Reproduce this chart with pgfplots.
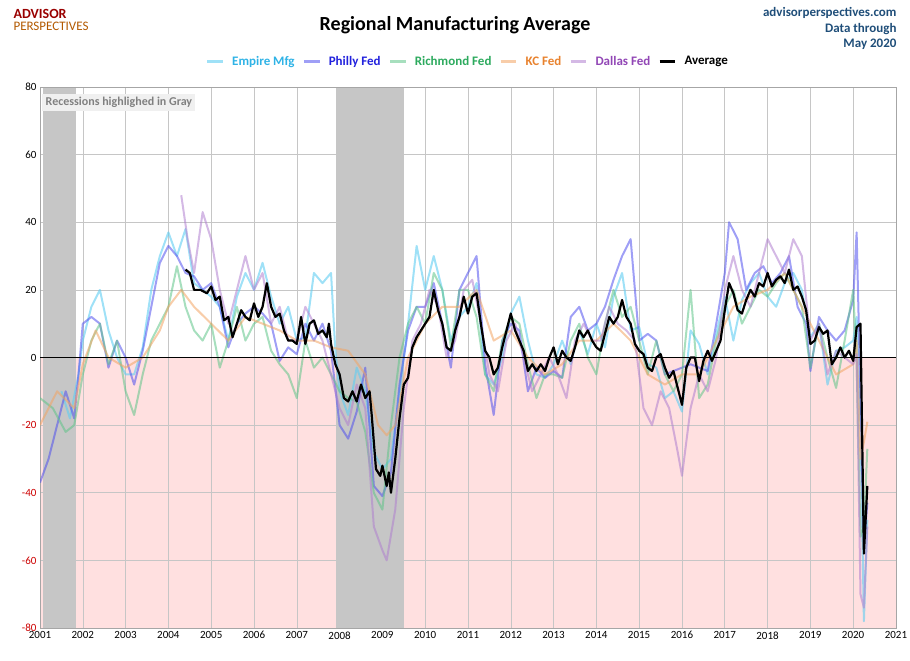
\documentclass[border=0pt]{standalone}
\usepackage{pgfplots}
\pgfplotsset{compat=1.18}
\usepackage{fontspec}
\setmainfont{Carlito}
\definecolor{cEmp}{HTML}{5FCDF2}
\definecolor{cPhi}{HTML}{5050EE}
\definecolor{cRic}{HTML}{5FC488}
\definecolor{cKC}{HTML}{F2A463}
\definecolor{cDal}{HTML}{B07FCF}
\definecolor{cEmpT}{HTML}{2FB3E6}
\definecolor{cPhiT}{HTML}{2222DD}
\definecolor{cRicT}{HTML}{2DAA5E}
\definecolor{cKCT}{HTML}{E8822E}
\definecolor{cDalT}{HTML}{9146B5}
\definecolor{ttl}{HTML}{1F4E79}
\begin{document}
\begin{tikzpicture}
\begin{axis}[
  set layers,
  scale only axis, width=856pt, height=541pt,
  xmin=2001, xmax=2021, ymin=-80, ymax=80,
  xtick={2001,...,2021}, ytick={-80,-60,...,80},
  yticklabels={\textcolor{red!80!black}{-80},\textcolor{red!80!black}{-60},\textcolor{red!80!black}{-40},\textcolor{red!80!black}{-20},0,20,40,60,80},
  xticklabel style={/pgf/number format/1000 sep={}},
  /pgf/number format/assume math mode=true,
  tick label style={font=\fontsize{11}{12}\selectfont},
  grid=major, grid style={gray!45, line width=0.5pt},
  axis line style={gray!70}, tick style={draw=none},
  legend columns=6,
  legend style={at={(0.5,1.03)}, anchor=south, draw=none, fill=none,
    font=\fontsize{13}{14}\selectfont\bfseries, column sep=6pt},
  legend image code/.code={\draw[#1,line width=2.5pt] (0pt,0pt) -- (0.55cm,0pt);},
  every axis plot/.append style={line width=2pt, line join=round},
]
\begin{pgfonlayer}{axis background}
\fill[red!12] (axis cs:2001,-80) rectangle (axis cs:2021,0);
\fill[gray!45] (axis cs:2001.08,-80) rectangle (axis cs:2001.83,80);
\fill[gray!45] (axis cs:2007.92,-80) rectangle (axis cs:2009.5,80);
\end{pgfonlayer}
\node[anchor=north west, fill=gray!12, font=\fontsize{12}{13}\selectfont\bfseries, text=gray] at (axis cs:2001.05,78) {Recessions highlighed in Gray};

\addplot[cEmp, opacity=0.6] coordinates {(2001.5,-10)(2001.7,-18)(2001.9,-5)(2002.0,5)(2002.2,15)(2002.4,20)(2002.6,8)(2002.8,0)(2003.0,-5)(2003.2,-5)(2003.4,3)(2003.6,20)(2003.8,30)(2004.0,37)(2004.2,30)(2004.4,38)(2004.6,22)(2004.8,20)(2005.0,18)(2005.2,15)(2005.4,5)(2005.6,18)(2005.8,25)(2006.0,20)(2006.2,28)(2006.4,18)(2006.6,10)(2006.8,15)(2007.0,5)(2007.2,6)(2007.4,25)(2007.6,22)(2007.8,25)(2007.9,2)(2008.0,-10)(2008.2,-17)(2008.4,-3)(2008.6,-10)(2008.8,-28)(2009.0,-33)(2009.2,-30)(2009.4,-10)(2009.6,10)(2009.8,33)(2010.0,20)(2010.2,30)(2010.4,20)(2010.6,5)(2010.8,12)(2011.0,15)(2011.2,22)(2011.4,-5)(2011.6,-8)(2011.8,0)(2012.0,13)(2012.2,18)(2012.4,5)(2012.6,-5)(2012.8,-6)(2013.0,-2)(2013.2,5)(2013.4,-2)(2013.6,8)(2013.8,1)(2014.0,10)(2014.2,3)(2014.4,18)(2014.6,25)(2014.8,8)(2015.0,9)(2015.2,-2)(2015.4,-3)(2015.6,-12)(2015.8,-10)(2016.0,-16)(2016.2,8)(2016.4,4)(2016.6,-5)(2016.8,7)(2017.0,18)(2017.2,5)(2017.4,17)(2017.6,22)(2017.8,25)(2018.0,18)(2018.2,15)(2018.4,22)(2018.6,25)(2018.8,20)(2019.0,6)(2019.2,10)(2019.4,-8)(2019.6,2)(2019.8,3)(2020.0,5)(2020.08,12)(2020.17,-21)(2020.25,-78)(2020.33,-48)};
\addlegendentry{\textcolor{cEmpT}{Empire Mfg}}
\addplot[cPhi, opacity=0.55] coordinates {(2001.0,-37)(2001.2,-30)(2001.4,-20)(2001.6,-10)(2001.8,-18)(2001.9,-5)(2002.0,10)(2002.2,12)(2002.4,10)(2002.6,-3)(2002.8,5)(2003.0,0)(2003.2,-8)(2003.4,2)(2003.6,15)(2003.8,28)(2004.0,33)(2004.2,30)(2004.4,25)(2004.6,24)(2004.8,20)(2005.0,22)(2005.2,15)(2005.4,3)(2005.6,10)(2005.8,13)(2006.0,15)(2006.2,13)(2006.4,10)(2006.6,-1)(2006.8,3)(2007.0,1)(2007.2,10)(2007.4,5)(2007.6,10)(2007.8,2)(2008.0,-20)(2008.2,-24)(2008.4,-16)(2008.6,-3)(2008.8,-38)(2009.0,-41)(2009.2,-34)(2009.4,-8)(2009.6,8)(2009.8,15)(2010.0,15)(2010.2,22)(2010.4,10)(2010.6,-3)(2010.8,20)(2011.0,25)(2011.2,30)(2011.4,-2)(2011.6,-17)(2011.8,5)(2012.0,10)(2012.2,8)(2012.4,-10)(2012.6,-3)(2012.8,-6)(2013.0,-4)(2013.2,-6)(2013.4,12)(2013.6,15)(2013.8,8)(2014.0,10)(2014.2,15)(2014.4,23)(2014.6,30)(2014.8,35)(2015.0,5)(2015.2,7)(2015.4,5)(2015.6,-5)(2015.8,-4)(2016.0,-3)(2016.2,-2)(2016.4,-3)(2016.6,-4)(2016.8,10)(2017.0,25)(2017.1,40)(2017.3,35)(2017.5,20)(2017.7,25)(2017.9,27)(2018.1,22)(2018.3,25)(2018.5,30)(2018.7,15)(2018.9,10)(2019.0,-4)(2019.2,12)(2019.4,8)(2019.6,5)(2019.8,8)(2020.0,17)(2020.08,37)(2020.17,-12)(2020.25,-56)(2020.33,-43)};
\addlegendentry{\textcolor{cPhiT}{Philly Fed}}
\addplot[cRic, opacity=0.55] coordinates {(2001.0,-12)(2001.3,-15)(2001.6,-22)(2001.8,-20)(2002.0,-5)(2002.2,5)(2002.4,10)(2002.6,-2)(2002.8,5)(2003.0,-10)(2003.2,-17)(2003.4,-5)(2003.6,5)(2003.8,10)(2004.0,15)(2004.2,27)(2004.4,15)(2004.6,8)(2004.8,5)(2005.0,10)(2005.2,-3)(2005.4,5)(2005.6,15)(2005.8,5)(2006.0,10)(2006.2,12)(2006.4,2)(2006.6,-2)(2006.8,-5)(2007.0,-12)(2007.2,5)(2007.4,-3)(2007.6,0)(2007.8,-5)(2008.0,-10)(2008.2,-12)(2008.4,-13)(2008.6,-22)(2008.8,-40)(2009.0,-45)(2009.2,-20)(2009.4,0)(2009.6,10)(2009.8,15)(2010.0,10)(2010.2,25)(2010.4,20)(2010.6,3)(2010.8,20)(2011.0,20)(2011.2,12)(2011.4,-5)(2011.6,-10)(2011.8,5)(2012.0,12)(2012.2,10)(2012.4,-2)(2012.6,-12)(2012.8,-5)(2013.0,-5)(2013.2,-6)(2013.4,5)(2013.6,10)(2013.8,0)(2014.0,-5)(2014.2,10)(2014.4,20)(2014.6,12)(2014.8,15)(2015.0,5)(2015.2,-5)(2015.4,5)(2015.6,-5)(2015.8,-10)(2016.0,-5)(2016.2,20)(2016.4,-12)(2016.6,-8)(2016.8,5)(2017.0,15)(2017.2,20)(2017.4,10)(2017.6,15)(2017.8,20)(2018.0,18)(2018.2,22)(2018.4,25)(2018.6,20)(2018.8,15)(2019.0,-3)(2019.2,10)(2019.4,0)(2019.6,-9)(2019.8,5)(2020.0,20)(2020.08,-2)(2020.17,-53)(2020.25,-50)(2020.33,-27)};
\addlegendentry{\textcolor{cRicT}{Richmond Fed}}
\addplot[cKC, opacity=0.55] coordinates {(2001.0,-20)(2001.4,-10)(2001.8,-15)(2002.0,-2)(2002.3,8)(2002.6,0)(2003.0,-3)(2003.4,0)(2003.8,8)(2004.0,15)(2004.3,20)(2004.6,15)(2005.0,10)(2005.4,5)(2005.8,12)(2006.2,10)(2006.6,8)(2007.0,5)(2007.4,5)(2007.8,3)(2008.2,2)(2008.6,-5)(2008.9,-20)(2009.1,-23)(2009.3,-20)(2009.6,0)(2010.0,10)(2010.4,15)(2010.8,15)(2011.2,20)(2011.6,5)(2012.0,8)(2012.4,0)(2012.8,-5)(2013.2,-2)(2013.6,5)(2014.0,5)(2014.4,10)(2014.8,5)(2015.2,-5)(2015.6,-8)(2016.0,-5)(2016.4,-5)(2016.8,5)(2017.2,15)(2017.6,18)(2018.0,20)(2018.4,25)(2018.8,15)(2019.2,5)(2019.6,-5)(2020.0,-2)(2020.08,5)(2020.17,-30)(2020.25,-25)(2020.33,-19)};
\addlegendentry{\textcolor{cKCT}{KC Fed}}
\addplot[cDal, opacity=0.55] coordinates {(2004.3,48)(2004.45,35)(2004.6,25)(2004.8,43)(2005.0,35)(2005.2,20)(2005.4,10)(2005.6,20)(2005.8,30)(2006.0,20)(2006.2,25)(2006.4,10)(2006.6,15)(2006.8,5)(2007.0,5)(2007.2,15)(2007.4,10)(2007.6,5)(2007.8,-5)(2008.0,-15)(2008.2,-20)(2008.4,-8)(2008.6,-15)(2008.8,-50)(2009.0,-57)(2009.1,-60)(2009.3,-45)(2009.5,-15)(2009.7,5)(2009.9,10)(2010.1,20)(2010.3,15)(2010.5,0)(2010.7,5)(2010.9,20)(2011.1,23)(2011.3,10)(2011.5,-5)(2011.7,-10)(2011.9,5)(2012.1,10)(2012.3,0)(2012.5,-10)(2012.7,-5)(2012.9,0)(2013.1,-5)(2013.3,-12)(2013.5,5)(2013.7,10)(2013.9,5)(2014.1,5)(2014.3,15)(2014.5,10)(2014.7,8)(2014.9,5)(2015.1,-15)(2015.3,-20)(2015.5,-10)(2015.7,-15)(2015.9,-28)(2016.0,-35)(2016.2,-15)(2016.4,-5)(2016.6,-10)(2016.8,0)(2017.0,20)(2017.2,30)(2017.4,20)(2017.6,15)(2017.8,25)(2018.0,35)(2018.2,30)(2018.4,25)(2018.6,35)(2018.8,30)(2019.0,5)(2019.2,10)(2019.4,-5)(2019.6,2)(2019.8,0)(2020.0,-2)(2020.08,1)(2020.17,-70)(2020.25,-74)(2020.33,-50)};
\addlegendentry{\textcolor{cDalT}{Dallas Fed}}
\addplot[black, line width=2.2pt] coordinates {(2004.4,26)(2004.5,25)(2004.6,20)(2004.75,20)(2004.9,19)(2005.0,21)(2005.1,17)(2005.2,18)(2005.3,11)(2005.4,12)(2005.5,6)(2005.6,10)(2005.7,14)(2005.8,12)(2005.9,11)(2006.0,16)(2006.1,12)(2006.2,15)(2006.3,22)(2006.4,15)(2006.5,12)(2006.6,13)(2006.7,8)(2006.8,5)(2006.9,5)(2007.0,4)(2007.1,12)(2007.2,4)(2007.3,10)(2007.4,11)(2007.5,7)(2007.6,8)(2007.7,6)(2007.75,10)(2007.8,4)(2007.9,-2)(2008.0,-5)(2008.1,-12)(2008.2,-13)(2008.3,-10)(2008.4,-13)(2008.5,-8)(2008.6,-12)(2008.7,-10)(2008.75,-17)(2008.85,-33)(2008.95,-35)(2009.0,-32)(2009.1,-38)(2009.15,-34)(2009.2,-40)(2009.3,-30)(2009.4,-18)(2009.5,-8)(2009.6,-6)(2009.7,3)(2009.8,6)(2009.9,8)(2010.0,10)(2010.1,12)(2010.2,20)(2010.3,14)(2010.4,10)(2010.5,3)(2010.6,2)(2010.7,8)(2010.8,12)(2010.9,18)(2011.0,13)(2011.1,18)(2011.2,19)(2011.3,10)(2011.4,2)(2011.5,0)(2011.6,-5)(2011.7,-3)(2011.8,3)(2011.9,8)(2012.0,13)(2012.1,8)(2012.2,5)(2012.3,2)(2012.4,-4)(2012.5,-2)(2012.6,-4)(2012.7,-2)(2012.8,-4)(2012.9,0)(2013.0,3)(2013.1,-2)(2013.2,2)(2013.3,0)(2013.4,-1)(2013.5,3)(2013.6,8)(2013.7,6)(2013.8,8)(2013.9,5)(2014.0,3)(2014.1,2)(2014.2,7)(2014.3,12)(2014.4,10)(2014.5,12)(2014.6,17)(2014.7,12)(2014.8,10)(2014.9,4)(2015.0,2)(2015.1,1)(2015.2,-3)(2015.3,-4)(2015.4,0)(2015.5,1)(2015.6,-3)(2015.7,-6)(2015.8,-4)(2015.9,-9)(2016.0,-14)(2016.1,-3)(2016.2,0)(2016.3,0)(2016.4,-7)(2016.5,-1)(2016.6,2)(2016.7,-1)(2016.8,2)(2016.9,5)(2017.0,14)(2017.1,22)(2017.2,19)(2017.3,14)(2017.4,13)(2017.5,17)(2017.6,20)(2017.7,18)(2017.8,22)(2017.9,21)(2018.0,25)(2018.1,21)(2018.2,23)(2018.3,24)(2018.4,22)(2018.5,26)(2018.6,20)(2018.7,21)(2018.8,18)(2018.9,14)(2019.0,4)(2019.1,5)(2019.2,9)(2019.3,7)(2019.4,8)(2019.5,-2)(2019.6,0)(2019.7,3)(2019.8,0)(2019.9,2)(2020.0,-1)(2020.08,9)(2020.17,10)(2020.25,-58)(2020.33,-38)};
\addlegendentry{Average}
\draw[black, line width=1.5pt] (axis cs:2001,0) -- (axis cs:2021,0);
\end{axis}
\node[font=\fontsize{20}{22}\selectfont\bfseries] at (415pt,603pt) {Regional Manufacturing Average};
\node[anchor=west, font=\fontsize{14}{15}\selectfont\bfseries, text=red!60!black] at (-30pt,614pt) {ADVISOR};
\node[anchor=west, font=\fontsize{13}{14}\selectfont, text=orange!70!black] at (-30pt,602pt) {PERSPECTIVES};
\node[anchor=north east, align=right, font=\fontsize{13}{15.5}\selectfont\bfseries, text=ttl] at (860pt,624pt) {advisorperspectives.com\\Data through\\May 2020};
\pgfresetboundingbox
\useasboundingbox (-40pt,-33pt) rectangle (870pt,628pt);
\end{tikzpicture}
\end{document}
